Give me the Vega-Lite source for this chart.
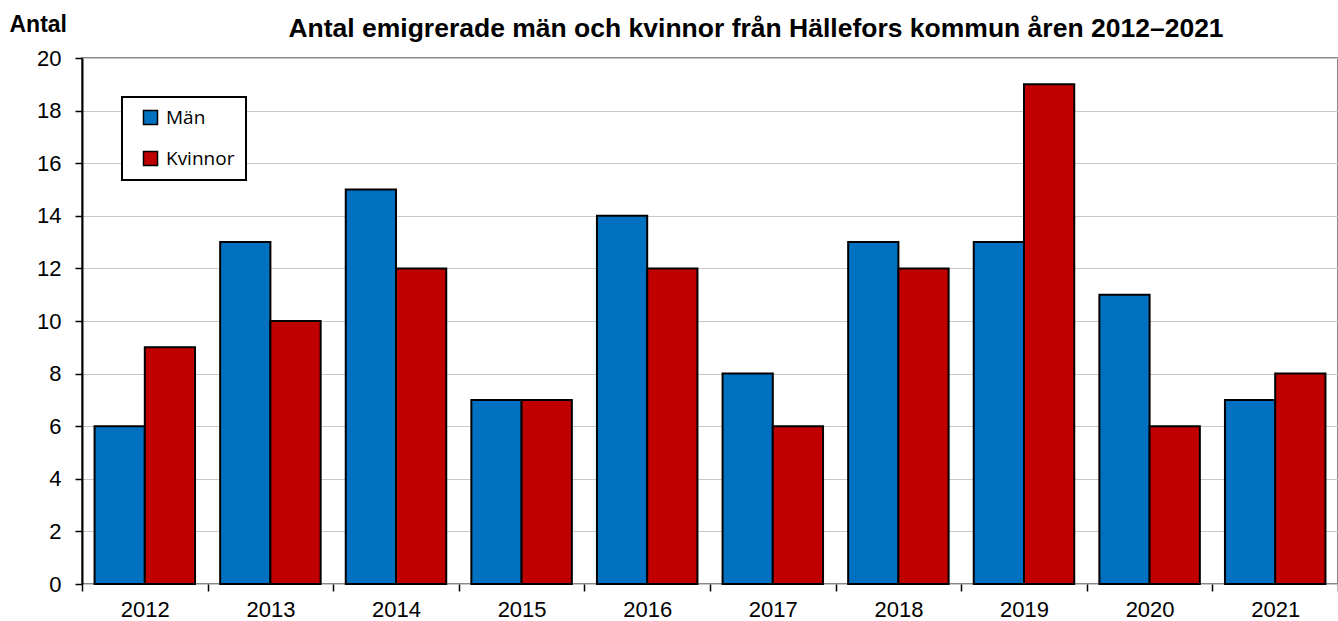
{
  "$schema": "https://vega.github.io/schema/vega-lite/v6.json",
  "autosize": "none",
  "width": 1256,
  "height": 526,
  "padding": {"left": 82, "top": 58, "right": 0, "bottom": 37},
  "background": "white",
  "config": {
    "font": "Liberation Sans",
    "view": {"stroke": "#888888", "strokeWidth": 2}
  },
  "title": {
    "text": "Antal emigrerade män och kvinnor från Hällefors kommun åren 2012–2021",
    "fontSize": 26.5,
    "fontWeight": "bold",
    "font": "Liberation Sans",
    "color": "black",
    "anchor": "middle",
    "dx": 46,
    "baseline": "alphabetic",
    "offset": -50
  },
  "data": {
    "values": [
      {"year": "2012", "kon": "Män", "antal": 6},
      {"year": "2012", "kon": "Kvinnor", "antal": 9},
      {"year": "2013", "kon": "Män", "antal": 13},
      {"year": "2013", "kon": "Kvinnor", "antal": 10},
      {"year": "2014", "kon": "Män", "antal": 15},
      {"year": "2014", "kon": "Kvinnor", "antal": 12},
      {"year": "2015", "kon": "Män", "antal": 7},
      {"year": "2015", "kon": "Kvinnor", "antal": 7},
      {"year": "2016", "kon": "Män", "antal": 14},
      {"year": "2016", "kon": "Kvinnor", "antal": 12},
      {"year": "2017", "kon": "Män", "antal": 8},
      {"year": "2017", "kon": "Kvinnor", "antal": 6},
      {"year": "2018", "kon": "Män", "antal": 13},
      {"year": "2018", "kon": "Kvinnor", "antal": 12},
      {"year": "2019", "kon": "Män", "antal": 13},
      {"year": "2019", "kon": "Kvinnor", "antal": 19},
      {"year": "2020", "kon": "Män", "antal": 11},
      {"year": "2020", "kon": "Kvinnor", "antal": 6},
      {"year": "2021", "kon": "Män", "antal": 7},
      {"year": "2021", "kon": "Kvinnor", "antal": 8}
    ]
  },
  "mark": {"type": "bar", "stroke": "black", "strokeWidth": 2},
  "encoding": {
    "x": {
      "field": "year",
      "type": "nominal",
      "scale": {"paddingInner": 0, "paddingOuter": 0},
      "axis": {
        "title": null,
        "labelAngle": 0,
        "labelFontSize": 22,
        "labelColor": "black",
        "labelPadding": 8,
        "tickBand": "extent",
        "tickSize": 7,
        "tickColor": "black",
        "tickWidth": 1.5,
        "domain": false,
        "grid": false
      }
    },
    "xOffset": {
      "field": "kon",
      "type": "nominal",
      "sort": ["Män", "Kvinnor"],
      "scale": {"paddingInner": 0, "paddingOuter": 0.25}
    },
    "y": {
      "field": "antal",
      "type": "quantitative",
      "scale": {"domain": [0, 20], "nice": false},
      "axis": {
        "values": [0, 2, 4, 6, 8, 10, 12, 14, 16, 18, 20],
        "title": "Antal",
        "titleAngle": 0,
        "titleAlign": "left",
        "titleBaseline": "alphabetic",
        "titleX": -73,
        "titleY": -27,
        "titleFontSize": 23,
        "titleFontWeight": "bold",
        "titleColor": "black",
        "labelFontSize": 22,
        "labelColor": "black",
        "labelPadding": 14,
        "tickSize": 7,
        "tickColor": "black",
        "tickWidth": 1.5,
        "domainColor": "black",
        "domainWidth": 2,
        "gridColor": "#c8c8c8",
        "gridWidth": 1
      }
    },
    "color": {
      "field": "kon",
      "type": "nominal",
      "sort": ["Män", "Kvinnor"],
      "scale": {"domain": ["Män", "Kvinnor"], "range": ["#0070C0", "#C00000"]},
      "legend": {
        "title": null,
        "orient": "none",
        "legendX": 40,
        "legendY": 39,
        "direction": "vertical",
        "strokeColor": "black",
        "fillColor": "white",
        "padding": 11,
        "symbolType": "square",
        "symbolSize": 196,
        "symbolStrokeColor": "black",
        "symbolStrokeWidth": 1.5,
        "symbolOpacity": 1,
        "symbolOffset": 8,
        "labelFont": "Open Sans",
        "labelFontSize": 19,
        "labelColor": "black",
        "labelOffset": 6,
        "labelExpr": "datum.label + '\u2003'",
        "rowPadding": 20,
        "encode": {"legend": {"update": {"strokeWidth": {"value": 2}}}}
      }
    }
  }
}
